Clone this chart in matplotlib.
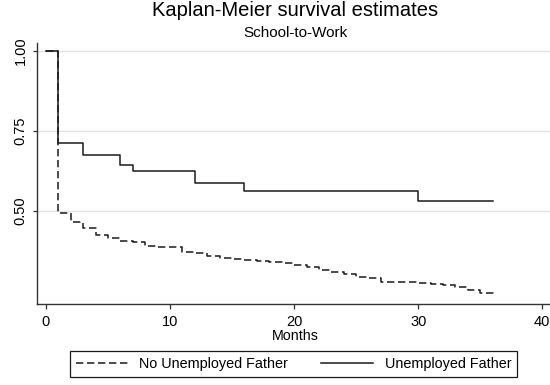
import matplotlib
matplotlib.use("Agg")
import matplotlib.pyplot as plt

plt.rcParams['font.family'] = ['Liberation Sans', 'DejaVu Sans']

# Kaplan-Meier step estimates (time in months, survival after that time)
no_unemp_t = [0, 1, 2, 3, 4, 5, 6, 7, 8, 9, 10, 11, 12, 13, 14, 15, 16, 17, 18,
              19, 20, 21, 22, 23, 24, 25, 26, 27, 30, 31, 32, 33, 34, 35, 36]
no_unemp_s = [1.0, 0.492, 0.465, 0.445, 0.425, 0.413, 0.405, 0.401, 0.390, 0.387,
              0.385, 0.371, 0.366, 0.358, 0.353, 0.348, 0.345, 0.342, 0.340, 0.336,
              0.330, 0.325, 0.314, 0.309, 0.302, 0.293, 0.288, 0.277, 0.272, 0.269,
              0.267, 0.262, 0.251, 0.242, 0.238]

unemp_t = [0, 1, 3, 6, 7, 12, 16, 30, 36]
unemp_s = [1.0, 0.713, 0.675, 0.643, 0.624, 0.588, 0.563, 0.530, 0.530]

xticks = [0, 10, 20, 30, 40]
yticks = [0.50, 0.75, 1.00]
ytick_labels = ['0.50', '0.75', '1.00']

fig = plt.figure(figsize=(5.5, 3.85), dpi=100)
ax = fig.add_axes([0.0665, 0.2104, 0.9335, 0.6786])

ax.step(no_unemp_t, no_unemp_s, where='post', color='#1a1a1a', lw=1.1,
        dashes=(4.8, 2.4), label='No Unemployed Father')
ax.step(unemp_t, unemp_s, where='post', color='#1a1a1a', lw=1.1,
        label='Unemployed Father')

ax.set_xlim(-0.75, 40.62)
ax.set_ylim(0.2077, 1.026)
ax.set_xticks(xticks)
ax.set_yticks(yticks)
ax.set_yticklabels(ytick_labels, rotation=90, va='center')
ax.yaxis.grid(True, color='#e3e3e3', lw=1.0)
ax.set_axisbelow(True)

for side in ['top', 'right']:
    ax.spines[side].set_visible(False)
for side in ['left', 'bottom']:
    ax.spines[side].set_color('#333333')
    ax.spines[side].set_linewidth(1.0)
ax.tick_params(axis='x', length=3.6, width=0.9, color='#333333', pad=4.5, labelsize=10.5)
ax.tick_params(axis='y', length=2.9, width=0.9, color='#333333', pad=3.5, labelsize=10.5)

fig.text(0.537, 0.959, 'Kaplan-Meier survival estimates', ha='center', va='baseline', fontsize=14.5)
fig.text(0.537, 0.904, 'School-to-Work', ha='center', va='baseline', fontsize=11)
fig.text(0.537, 0.1177, 'Months', ha='center', va='baseline', fontsize=10.3)

leg = fig.legend(loc='center', bbox_to_anchor=(0.534, 0.0538), ncol=2, fontsize=10.4,
                 handlelength=3.6, handletextpad=0.78, columnspacing=2.3,
                 borderpad=0.42, fancybox=False, framealpha=1, edgecolor='#1a1a1a')
leg.get_frame().set_linewidth(0.9)

fig.savefig('out.png', dpi=100)
